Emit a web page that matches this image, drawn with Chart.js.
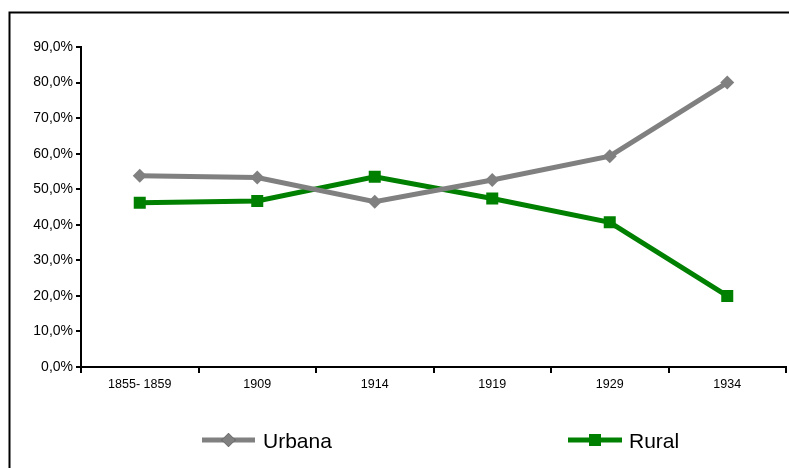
<!DOCTYPE html>
<html>
<head>
<meta charset="utf-8">
<script src="https://cdn.jsdelivr.net/npm/chart.js@4/dist/chart.umd.min.js"></script>
<style>
  html, body { margin: 0; padding: 0; background: #fff; }
  #wrap { position: relative; width: 789px; height: 468px; }
</style>
</head>
<body>
<div id="wrap"><canvas id="c" width="789" height="468"></canvas></div>
<script>
const categories = ["1855- 1859", "1909", "1914", "1919", "1929", "1934"];
const urbana = [53.8, 53.3, 46.5, 52.6, 59.3, 80.0];
const rural = [46.2, 46.7, 53.5, 47.4, 40.7, 20.0];
const seriesNames = ["Urbana", "Rural"];
const yTicks = [0, 10, 20, 30, 40, 50, 60, 70, 80, 90];

const GRAY = "#808080";
const GREEN = "#008000";
const FONT = "'Liberation Sans', Arial, sans-serif";

const framePlugin = {
  id: "frame",
  beforeDraw(chart) {
    const ctx = chart.ctx;
    ctx.save();
    ctx.fillStyle = "#fff";
    ctx.fillRect(0, 0, chart.width, chart.height);
    ctx.strokeStyle = "#000";
    ctx.lineWidth = 2;
    ctx.beginPath();
    ctx.moveTo(9.5, chart.height + 5);
    ctx.lineTo(9.5, 12.5);
    ctx.lineTo(chart.width + 5, 12.5);
    ctx.stroke();
    ctx.restore();
  }
};

const legendPlugin = {
  id: "customLegend",
  afterDraw(chart) {
    const ctx = chart.ctx;
    const items = [
      { ds: chart.data.datasets[0], x0: 202, x1: 255, tx: 263 },
      { ds: chart.data.datasets[1], x0: 568, x1: 622, tx: 629 }
    ];
    const y = 440;
    ctx.save();
    items.forEach(it => {
      ctx.strokeStyle = it.ds.borderColor;
      ctx.lineWidth = it.ds.borderWidth;
      ctx.beginPath();
      ctx.moveTo(it.x0, y);
      ctx.lineTo(it.x1, y);
      ctx.stroke();
      Chart.helpers.drawPoint(ctx, {
        pointStyle: it.ds.pointStyle,
        radius: it.ds.pointRadius,
        borderWidth: 0,
        rotation: 0
      }, (it.x0 + it.x1) / 2, y);
      ctx.fillStyle = it.ds.pointBackgroundColor;
      ctx.fill();
      ctx.fillStyle = "#000";
      ctx.font = "21px " + FONT;
      ctx.textBaseline = "middle";
      ctx.textAlign = "left";
      ctx.fillText(it.ds.label, it.tx, y + 2);
    });
    ctx.restore();
  }
};

new Chart(document.getElementById("c"), {
  type: "line",
  data: {
    labels: categories,
    datasets: [
      {
        label: seriesNames[0],
        data: urbana,
        borderColor: GRAY,
        backgroundColor: GRAY,
        pointBackgroundColor: GRAY,
        pointBorderColor: GRAY,
        borderWidth: 5,
        pointStyle: "rectRot",
        pointRadius: 7,
        pointBorderWidth: 0,
        tension: 0
      },
      {
        label: seriesNames[1],
        data: rural,
        borderColor: GREEN,
        backgroundColor: GREEN,
        pointBackgroundColor: GREEN,
        pointBorderColor: GREEN,
        borderWidth: 5,
        pointStyle: "rect",
        pointRadius: 8.5,
        pointBorderWidth: 0,
        tension: 0
      }
    ]
  },
  options: {
    responsive: false,
    animation: false,
    devicePixelRatio: 1,
    layout: { autoPadding: false, padding: { left: 0, right: 3, top: 47, bottom: 0 } },
    plugins: {
      legend: { display: false },
      tooltip: { enabled: false },
      title: { display: false }
    },
    scales: {
      x: {
        type: "category",
        offset: true,
        grid: {
          offset: true,
          drawOnChartArea: false,
          drawTicks: true,
          tickLength: 6,
          color: "#000",
          lineWidth: 2
        },
        border: { display: true, color: "#000", width: 2 },
        ticks: {
          color: "#000",
          font: { family: FONT, size: 12.5 },
          padding: 4,
          maxRotation: 0,
          autoSkip: false
        },
        afterFit(scale) {
          scale.height = 101;
          scale.paddingLeft = 0;
          scale.paddingRight = 0;
        }
      },
      y: {
        min: 0,
        max: 90,
        afterBuildTicks(scale) { scale.ticks = yTicks.map(v => ({ value: v })); },
        grid: {
          drawOnChartArea: false,
          drawTicks: true,
          tickLength: 5,
          color: "#000",
          lineWidth: 2
        },
        border: { display: true, color: "#000", width: 2 },
        ticks: {
          color: "#000",
          font: { family: FONT, size: 14 },
          padding: 3,
          callback: v => v.toFixed(1).replace(".", ",") + "%"
        },
        afterFit(scale) { scale.width = 81; }
      }
    }
  },
  plugins: [framePlugin, legendPlugin]
});
</script>
</body>
</html>
